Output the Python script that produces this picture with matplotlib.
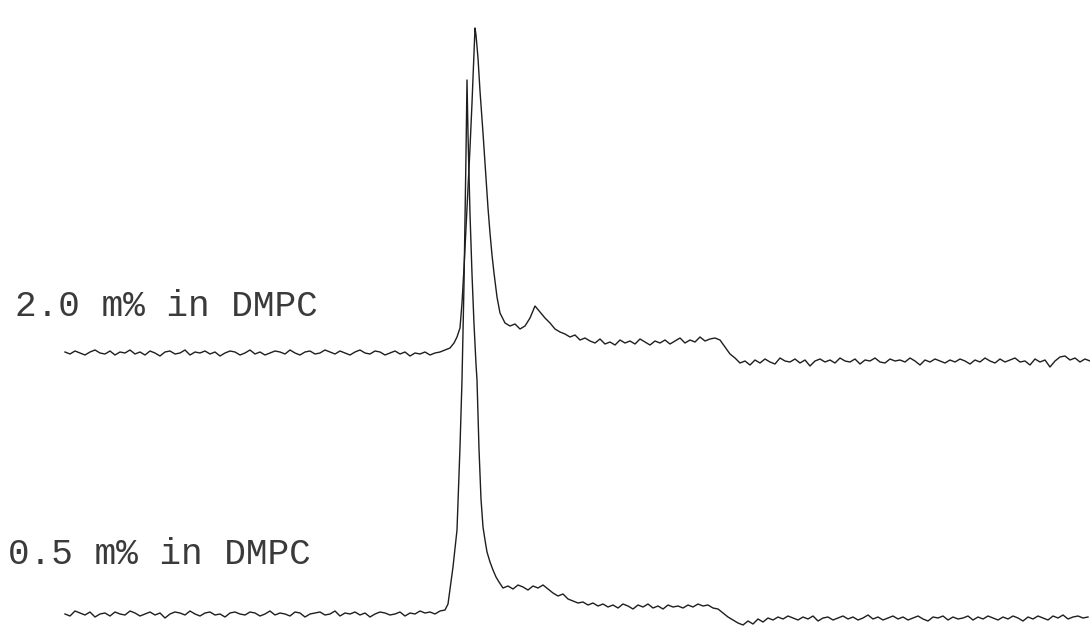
import numpy as np
import matplotlib.pyplot as plt

# spectra, intensity relative to each trace's left baseline
# x is an arbitrary shift axis (left -> right), baseline parts sampled every 5 units

# 2.0 m% trace
top_left = [1, -1, 2, 0, -2, 1, 3, 0, -1, 2, -2, 1, 0, 3, -1, 1, -2, 2, 0, -3,
            1, 2, -1, 0, 3, -2, 1, 0, 2, -1, 1, -3, 0, 2, 1, -2, 0, 3, -1, 1,
            -2, 0, 2, 1, -1, 3, 0, -2, 1, 2, -1, 0, 3, 1, -1, 2, 0, -2, 1, 3,
            0, -1, 2, 1, -2, 0, 2, -1, 1, -3, 0, -1, 1, -2, 0, 1, 3]
top_peak_x = [450, 454, 457, 460, 462, 464, 466, 468, 470, 472, 474, 475,
              476, 478, 480, 483, 486, 488, 490, 492, 494, 496, 497]
top_peak_y = [5, 10, 16, 25, 50, 85, 125, 165, 205, 250, 300, 325,
              318, 295, 262, 220, 175, 145, 120, 98, 80, 64, 56]
top_right = [40, 30, 27, 29, 24, 27, 35, 47, 41, 35, 30, 24, 21, 19, 16, 18,
             13, 15, 12, 10, 14, 9, 11, 8, 13, 10, 12, 9, 14, 11, 8, 12, 10,
             13, 9, 12, 15, 10, 13, 11, 16, 12, 14, 15, 13, 6, -1, -5, -10, -8,
             -12, -7, -10, -6, -9, -11, -5, -8, -9, -6, -10, -7, -13, -8, -6,
             -9, -7, -10, -5, -8, -9, -6, -11, -7, -8, -5, -9, -10, -6, -8, -7,
             -9, -5, -8, -12, -7, -9, -6, -8, -10, -7, -9, -6, -8, -11, -7, -9,
             -5, -8, -10, -6, -9, -7, -5, -9, -8, -12, -6, -9, -7, -14, -8, -4,
             -3, -7, -5, -9, -6, -8]

# 0.5 m% trace
bot_left = [0, -2, 3, 1, -1, 2, -3, 0, 1, -2, 2, 0, -1, 3, 1, -2, 0, 2, -1, 1,
            -4, 0, 2, 1, -1, 3, 0, -2, 1, 2, -1, 0, -3, 1, 2, 0, -1, 2, 1, -2,
            0, 3, -1, 1, 0, -2, 2, 1, -3, 0, 1, 2, -1, 0, 3, -2, 1, 0, 2, -1,
            1, -3, 0, 2, 1, -1, 0, 2, -2, 1, 0, 3, 1, 2, 0, 3]
bot_peak_x = [445, 448, 450, 453, 457, 460, 462, 464, 466, 467, 468, 470,
              472, 474, 476, 477, 479, 481, 483, 485, 487, 490, 493, 496, 499]
bot_peak_y = [4, 10, 25, 47, 84, 167, 234, 330, 460, 534, 480, 400,
              340, 290, 250, 234, 165, 115, 87, 74, 62, 52, 44, 37, 32]
bot_right = [26, 28, 25, 29, 27, 24, 28, 26, 29, 25, 21, 18, 20, 15, 13, 11,
             12, 9, 11, 8, 10, 7, 9, 6, 10, 8, 5, 9, 7, 10, 6, 8, 5, 9, 7, 8,
             6, 9, 7, 10, 8, 9, 6, 5, 1, -3, -6, -9, -11, -7, -10, -5, -8, -4,
             -6, -3, -5, -2, -4, -6, -3, -5, -2, -7, -4, -3, -6, -4, -2, -5,
             -3, -6, -4, -1, -5, -3, -6, -4, -2, -5, -3, -6, -4, -2, -5, -7,
             -3, -4, -2, -6, -3, -5, -4, -2, -6, -3, -5, -2, -4, -6, -3, -5,
             -2, -4, -7, -3, -5, -2, -4, -6, -2, -4, -1, -5, -3, -2, -4, -3]

labels = ["2.0 m% in DMPC", "0.5 m% in DMPC"]


def trace(left, px, py, right, x0=65, x1=500, step=5):
    x = np.concatenate([x0 + step * np.arange(len(left)), px,
                        x1 + step * np.arange(len(right))])
    y = np.concatenate([left, py, right])
    return x, y


fig = plt.figure(figsize=(10.9, 6.32), dpi=100)
ax = fig.add_axes([0, 0, 1, 1])

xt, yt = trace(top_left, top_peak_x, top_peak_y, top_right, x1=500)
xb, yb = trace(bot_left, bot_peak_x, bot_peak_y, bot_right, x1=503)

ax.plot(xt, yt + 279, color="#1e1e1e", lw=1.0)
ax.plot(xb, yb + 18, color="#1e1e1e", lw=1.0)

ax.text(15, 325, labels[0], family="Liberation Mono", fontsize=26,
        color="#3a3a3a", va="center", ha="left")
ax.text(8, 78, labels[1], family="Liberation Mono", fontsize=26,
        color="#3a3a3a", va="center", ha="left")

ax.set_xlim(0, 1090)
ax.set_ylim(0, 632)
ax.axis("off")

fig.savefig("out.png", dpi=100, facecolor="white")
